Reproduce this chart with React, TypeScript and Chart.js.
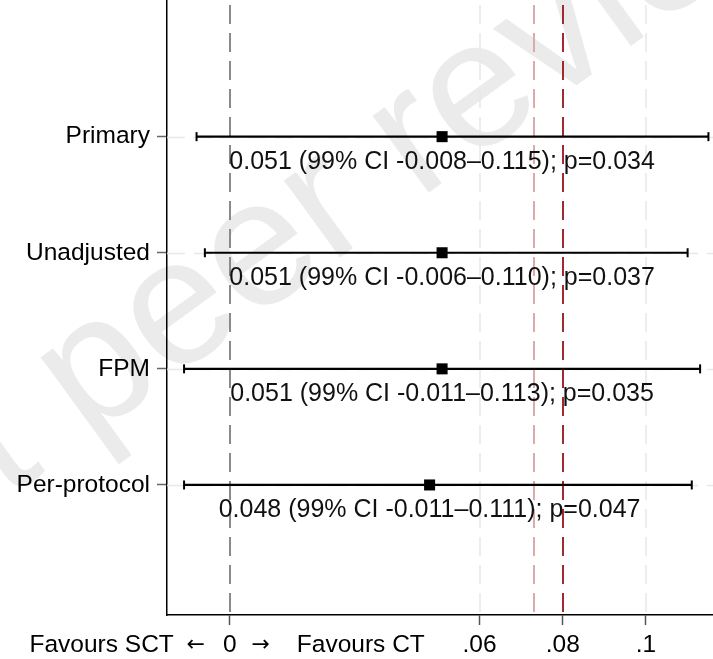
import { useEffect, useRef } from 'react';
import { Chart, registerables } from 'chart.js';

Chart.register(...registerables);

// ---- data ----
const outcomes = ['Primary', 'Unadjusted', 'FPM', 'Per-protocol'];
const estimates = [0.051, 0.051, 0.051, 0.048];
const ciLow = [-0.008, -0.006, -0.011, -0.011];
const ciHigh = [0.115, 0.110, 0.113, 0.111];
const pValues = ['0.034', '0.037', '0.035', '0.047'];
const xTickValues = [0, 0.06, 0.08, 0.1];
const xTickLabels = ['0', '.06', '.08', '.1'];
const leftDirectionText = 'Favours SCT';
const rightDirectionText = 'Favours CT';
const xGridValues = [0.06, 0.08, 0.1];
const refLineValues = [0, 0.073, 0.08];
const refLineColors = ['#8a8a8a', '#dcaaaa', '#9f2a2f'];
const watermarkText = 'Preprint not peer reviewed';
const watermarkPrefix = 'Preprint no';

// ---- scale ranges ----
const X_MIN = -0.0151;
const X_MAX = 0.1161;
const Y_MIN = -0.177;
const Y_MAX = 5.12;

const FONT = '"Liberation Sans", Arial, Helvetica, sans-serif';
const ARROW_FONT = '"DejaVu Sans", sans-serif';
const rows = outcomes.map((_, i) => i + 1);

const watermarkPlugin = {
  id: 'watermark',
  beforeDraw(chart: any) {
    const { ctx } = chart;
    ctx.save();
    ctx.font = `180px ${FONT}`;
    ctx.fillStyle = '#ebebeb';
    ctx.textAlign = 'left';
    ctx.textBaseline = 'alphabetic';
    ctx.translate(6, 500);
    ctx.rotate((-36 * Math.PI) / 180);
    const pre = ctx.measureText(watermarkPrefix).width;
    ctx.fillText(watermarkText, -pre, 0);
    ctx.restore();
  },
};

const linesPlugin = {
  id: 'refLines',
  beforeDatasetsDraw(chart: any) {
    const { ctx, chartArea, scales } = chart;
    const { top, bottom, left, right } = chartArea;
    const x = scales.x;
    const y = scales.y;
    ctx.save();
    // horizontal row grid lines
    ctx.lineWidth = 1.5;
    ctx.strokeStyle = '#e8e8e8';
    ctx.setLineDash([18, 9]);
    rows.forEach((v) => {
      const py = Math.round(y.getPixelForValue(v)) + 0.5;
      ctx.beginPath();
      ctx.moveTo(left, py);
      ctx.lineTo(right, py);
      ctx.stroke();
    });
    // vertical grid lines
    ctx.lineDashOffset = 23;
    ctx.setLineDash([19, 9]);
    xGridValues.forEach((v) => {
      const px = Math.round(x.getPixelForValue(v));
      ctx.beginPath();
      ctx.moveTo(px, top);
      ctx.lineTo(px, bottom);
      ctx.stroke();
    });
    // reference lines
    ctx.lineWidth = 2;
    refLineValues.forEach((v, i) => {
      const px = Math.round(x.getPixelForValue(v));
      ctx.strokeStyle = refLineColors[i];
      ctx.beginPath();
      ctx.moveTo(px, top);
      ctx.lineTo(px, bottom);
      ctx.stroke();
    });
    ctx.restore();
  },
};

const labelPlugin = {
  id: 'ciLabels',
  afterDatasetsDraw(chart: any) {
    const { ctx, scales } = chart;
    ctx.save();
    ctx.font = `25px ${FONT}`;
    ctx.fillStyle = '#111';
    ctx.textAlign = 'center';
    ctx.textBaseline = 'middle';
    outcomes.forEach((_, i) => {
      const px = scales.x.getPixelForValue(estimates[i]);
      const py = scales.y.getPixelForValue(rows[i]) + 25;
      const txt = `${estimates[i].toFixed(3)} (99% CI ${ciLow[i].toFixed(3)}\u2013${ciHigh[i].toFixed(3)}); p=${pValues[i]}`;
      ctx.fillText(txt, px, py);
    });
    ctx.restore();
  },
};

const directionPlugin = {
  id: 'direction',
  afterDraw(chart: any) {
    const { ctx, scales } = chart;
    const x = scales.x;
    const x0 = x.getPixelForValue(0);
    const py = x.top + 30;
    ctx.save();
    ctx.fillStyle = '#000';
    ctx.textBaseline = 'middle';
    ctx.font = `24.5px ${FONT}`;
    ctx.textAlign = 'right';
    ctx.fillText(leftDirectionText, x0 - 56, py);
    ctx.textAlign = 'left';
    ctx.fillText(rightDirectionText, x0 + 67, py);
    ctx.font = `22px ${ARROW_FONT}`;
    ctx.textAlign = 'center';
    ctx.fillText('\u2190', x0 - 34, py);
    ctx.fillText('\u2192', x0 + 31, py);
    ctx.restore();
  },
};

export default function App() {
  const ref = useRef<HTMLCanvasElement>(null);

  useEffect(() => {
    if (!ref.current) return;
    const ciDatasets = outcomes.map((name, i) => ({
      label: `${name} CI`,
      data: [
        { x: ciLow[i], y: rows[i] },
        { x: ciHigh[i], y: rows[i] },
      ],
      showLine: true,
      borderColor: '#000',
      borderWidth: 2.2,
      pointStyle: 'line',
      pointRotation: 90,
      pointRadius: 4.5,
      pointHoverRadius: 4.5,
      pointBorderWidth: 2,
      pointBorderColor: '#000',
      pointBackgroundColor: '#000',
      order: 2,
    }));
    const estDataset = {
      label: 'Estimate',
      data: estimates.map((e, i) => ({ x: e, y: rows[i] })),
      showLine: false,
      pointStyle: 'rect',
      pointRadius: 7.8,
      pointHoverRadius: 7.8,
      pointBackgroundColor: '#000',
      pointBorderColor: '#000',
      pointBorderWidth: 0,
      order: 1,
    };

    const chart = new Chart(ref.current, {
      type: 'scatter',
      data: { datasets: [...ciDatasets, estDataset] as any },
      options: {
        animation: false,
        responsive: true,
        maintainAspectRatio: false,
        layout: { padding: 0, autoPadding: false },
        plugins: {
          legend: { display: false },
          tooltip: { enabled: false },
          title: { display: false },
        },
        scales: {
          x: {
            type: 'linear',
            min: X_MIN,
            max: X_MAX,
            afterBuildTicks: (s: any) => {
              s.ticks = xTickValues.map((v) => ({ value: v }));
            },
            afterFit: (s: any) => {
              s.height = 44;
              s.paddingLeft = 0;
              s.paddingRight = 0;
            },
            ticks: {
              autoSkip: false,
              maxRotation: 0,
              padding: 6,
              color: '#000',
              font: { family: FONT, size: 24.5 },
              callback: (v: any) => {
                const idx = xTickValues.findIndex((t) => Math.abs(t - Number(v)) < 1e-9);
                return idx >= 0 ? xTickLabels[idx] : '';
              },
            },
            grid: {
              drawOnChartArea: false,
              drawTicks: true,
              tickLength: 10,
              tickColor: '#555',
              tickWidth: 1.5,
            },
            border: { display: true, color: '#000', width: 1.5 },
          },
          y: {
            type: 'linear',
            reverse: true,
            min: Y_MIN,
            max: Y_MAX,
            afterBuildTicks: (s: any) => {
              s.ticks = rows.map((v) => ({ value: v }));
            },
            afterFit: (s: any) => {
              s.width = 167;
              s.paddingTop = 0;
              s.paddingBottom = 0;
            },
            ticks: {
              autoSkip: false,
              padding: 7,
              color: '#000',
              font: { family: FONT, size: 24.5 },
              callback: (v: any) => outcomes[Math.round(Number(v)) - 1] ?? '',
            },
            grid: {
              drawOnChartArea: false,
              drawTicks: true,
              tickLength: 10,
              tickColor: '#666',
              tickWidth: 1.5,
            },
            border: { display: true, color: '#000', width: 1.5 },
          },
        },
      },
      plugins: [watermarkPlugin, linesPlugin, labelPlugin, directionPlugin],
    });
    return () => chart.destroy();
  }, []);

  return (
    <div style={{ position: 'absolute', left: 0, top: 0, width: 713, height: 659, background: '#fff' }}>
      <canvas ref={ref} />
    </div>
  );
}
